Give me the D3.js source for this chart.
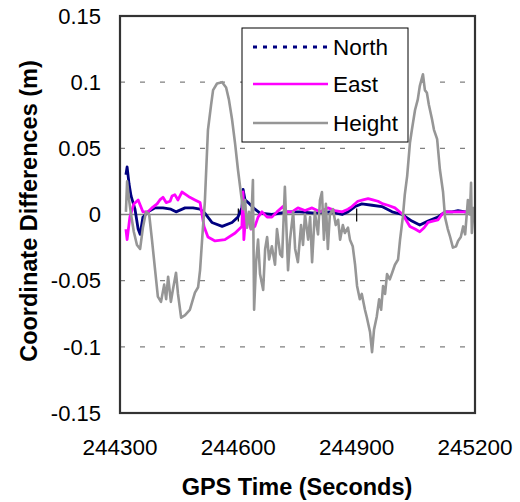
<!DOCTYPE html>
<html>
<head>
<meta charset="utf-8">
<script src="https://cdn.jsdelivr.net/npm/d3@7"></script>
<style>
  body { margin: 0; background: #fff; }
  svg text { font-family: "Liberation Sans", Arial, sans-serif; fill: #000; }
</style>
</head>
<body>
<svg id="chart" width="520" height="502"></svg>
<script>
// GPS time (s) and coordinate differences (m)
const northTime = [244315, 244318, 244323, 244328, 244338, 244346, 244351, 244358, 244371, 244389,
  244409, 244429, 244442, 244465, 244485, 244503, 244515, 244533, 244559, 244584, 244599, 244609,
  244612, 244617, 244625, 244642, 244655, 244685, 244726, 244756, 244794, 244832, 244863, 244878,
  244896, 244913, 244939, 244964, 244990, 245015, 245040, 245060, 245081, 245106, 245124, 245142,
  245157, 245175, 245197];
const northValues = [0.030, 0.036, 0.023, 0.014, 0.004, -0.011, -0.015, -0.002, 0.002, 0.005,
  0.005, 0.004, 0.002, 0.005, 0.005, 0.004, 0.001, -0.006, -0.009, -0.006, -0.002, 0.005,
  0.019, 0.011, 0.009, 0.004, 0.001, 0.000, 0.002, 0.002, 0.001, 0.002, 0.000, 0.002,
  0.006, 0.008, 0.007, 0.006, 0.002, 0.000, -0.005, -0.008, -0.005, -0.002, 0.002, 0.002,
  0.003, 0.002, 0.002];

const eastTime = [244315, 244318, 244325, 244335, 244346, 244358, 244371, 244381, 244394, 244401,
  244409, 244417, 244427, 244432, 244439, 244447, 244457, 244467, 244477, 244490, 244503, 244513,
  244523, 244541, 244566, 244592, 244609, 244612, 244614, 244619, 244624, 244632, 244642, 244650,
  244660, 244673, 244685, 244698, 244713, 244723, 244736, 244751, 244769, 244787, 244807, 244827,
  244845, 244863, 244878, 244888, 244903, 244916, 244929, 244941, 244954, 244967, 244979, 244997,
  245017, 245035, 245048, 245060, 245071, 245081, 245093, 245106, 245116, 245124, 245149, 245175,
  245197];
const eastValues = [-0.011, -0.019, -0.002, 0.008, 0.011, 0.002, 0.002, 0.005, 0.008, 0.011,
  0.013, 0.009, 0.010, 0.014, 0.015, 0.011, 0.017, 0.015, 0.013, 0.011, 0.009, -0.009,
  -0.017, -0.020, -0.019, -0.014, -0.009, 0.017, -0.019, 0.000, -0.002, -0.011, -0.009, -0.002,
  0.002, -0.002, -0.002, 0.002, 0.006, 0.002, 0.002, 0.005, 0.003, 0.005, 0.002, 0.005,
  0.003, 0.002, 0.004, 0.006, 0.010, 0.011, 0.012, 0.011, 0.010, 0.008, 0.007, 0.005,
  0.000, -0.009, -0.011, -0.013, -0.010, -0.006, -0.005, -0.004, 0.000, 0.002, 0.002, 0.002,
  0.002];

const heightTime = [244315, 244318, 244323, 244328, 244335, 244343, 244351, 244358, 244366, 244374,
  244381, 244389, 244396, 244404, 244412, 244417, 244422, 244429, 244434, 244442, 244447, 244455,
  244465, 244477, 244490, 244498, 244503, 244510, 244515, 244523, 244531, 244536, 244546, 244559,
  244569, 244576, 244584, 244592, 244599, 244607, 244612, 244617, 244622, 244627, 244632, 244637,
  244640, 244645, 244650, 244655, 244663, 244668, 244673, 244678, 244685, 244693, 244698, 244706,
  244711, 244718, 244726, 244731, 244739, 244744, 244751, 244759, 244764, 244769, 244777, 244782,
  244787, 244794, 244802, 244807, 244812, 244817, 244822, 244827, 244832, 244840, 244847, 244853,
  244858, 244865, 244870, 244878, 244883, 244890, 244896, 244901, 244908, 244913, 244921, 244926,
  244934, 244939, 244944, 244951, 244957, 244962, 244967, 244972, 244977, 244984, 244990, 244997,
  245005, 245010, 245017, 245022, 245028, 245035, 245040, 245048, 245055, 245060, 245068, 245073,
  245078, 245083, 245091, 245096, 245104, 245111, 245119, 245124, 245131, 245137, 245144, 245152,
  245157, 245164, 245170, 245175, 245182, 245187, 245190, 245192, 245197];
const heightValues = [0.002, 0.025, 0.011, 0.000, -0.013, -0.023, -0.026, -0.010, 0.002, 0.000,
  -0.019, -0.042, -0.062, -0.066, -0.053, -0.064, -0.047, -0.066, -0.057, -0.044, -0.060, -0.078,
  -0.076, -0.072, -0.059, -0.055, -0.042, -0.011, 0.009, 0.064, 0.083, 0.094, 0.099, 0.100,
  0.096, 0.087, 0.072, 0.053, 0.034, 0.015, 0.004, 0.011, -0.010, 0.002, -0.011, 0.026,
  -0.072, -0.036, -0.019, -0.045, -0.057, -0.026, -0.017, -0.034, -0.024, -0.038, -0.011, -0.030,
  -0.032, 0.021, -0.042, -0.019, 0.002, -0.026, -0.036, -0.008, -0.023, 0.000, -0.019, -0.002,
  -0.036, 0.002, -0.015, 0.011, 0.017, -0.019, 0.008, -0.026, 0.000, 0.004, -0.008, -0.004,
  -0.019, -0.008, -0.014, -0.010, -0.019, -0.024, -0.038, -0.054, -0.064, -0.060, -0.072, -0.078,
  -0.089, -0.104, -0.087, -0.077, -0.064, -0.072, -0.054, -0.060, -0.045, -0.049, -0.044, -0.038,
  -0.034, -0.019, -0.002, 0.015, 0.029, 0.054, 0.064, 0.079, 0.087, 0.097, 0.106, 0.094,
  0.092, 0.083, 0.072, 0.064, 0.057, 0.034, 0.017, -0.002, -0.011, -0.017, -0.025, -0.024,
  -0.020, -0.017, -0.009, -0.015, 0.011, 0.000, 0.024, -0.014, 0.006];

const xTicks = [244300, 244600, 244900, 245200];
const yTicks = [-0.15, -0.1, -0.05, 0, 0.05, 0.1, 0.15];
const seriesNames = ["North", "East", "Height"];
const seriesColors = ["#000080", "#ff00ff", "#969696"];

const margin = {top: 16, right: 45, bottom: 89, left: 120},
    width = 520 - margin.left - margin.right,
    height = 502 - margin.top - margin.bottom;

const svg = d3.select("#chart");
const g = svg.append("g")
    .attr("transform", "translate(" + margin.left + "," + margin.top + ")");

const x = d3.scaleLinear().domain([244300, 245200]).range([0, width]);
const y = d3.scaleLinear().domain([-0.15, 0.15]).range([height, 0]);

// dashed gridlines
g.selectAll(".grid")
    .data(yTicks.filter(d => d !== 0 && d !== 0.15 && d !== -0.15))
    .enter().append("line")
    .attr("x1", 0).attr("x2", width)
    .attr("y1", d => y(d)).attr("y2", d => y(d))
    .attr("stroke", "#808080")
    .attr("stroke-width", 1.2)
    .attr("stroke-dasharray", "5,15");

// x axis crosses at zero
g.append("line")
    .attr("x1", 0).attr("x2", width)
    .attr("y1", y(0)).attr("y2", y(0))
    .attr("stroke", "#808080")
    .attr("stroke-width", 1.5);
g.selectAll(".xtick")
    .data(xTicks)
    .enter().append("line")
    .attr("x1", d => x(d)).attr("x2", d => x(d))
    .attr("y1", y(0) - 6).attr("y2", y(0) + 7)
    .attr("stroke", "#000")
    .attr("stroke-width", 1.2);

// series
const series = [
    {time: northTime, values: northValues, width: 2.8},
    {time: eastTime, values: eastValues, width: 2.8},
    {time: heightTime, values: heightValues, width: 2.6}
];
const line = d3.line()
    .x(d => x(d[0]))
    .y(d => y(d[1]));

series.forEach(function (s, i) {
    g.append("path")
        .datum(d3.zip(s.time, s.values))
        .attr("fill", "none")
        .attr("stroke", seriesColors[i])
        .attr("stroke-width", s.width)
        .attr("stroke-linejoin", "round")
        .attr("d", line);
});

// plot frame
g.append("rect")
    .attr("x", 0).attr("y", 0)
    .attr("width", width).attr("height", height)
    .attr("fill", "none")
    .attr("stroke", "#333")
    .attr("stroke-width", 2.2);

// tick labels
g.selectAll(".ylabel")
    .data(yTicks)
    .enter().append("text")
    .attr("x", -19)
    .attr("y", d => y(d))
    .attr("dy", "0.35em")
    .attr("text-anchor", "end")
    .style("font-size", "22px")
    .text(d => String(d));

g.selectAll(".xlabel")
    .data(xTicks)
    .enter().append("text")
    .attr("x", d => x(d))
    .attr("y", height + 42)
    .attr("text-anchor", "middle")
    .style("font-size", "22.5px")
    .text(d => d);

// axis titles
svg.append("text")
    .attr("x", 297)
    .attr("y", 495)
    .attr("text-anchor", "middle")
    .style("font-size", "23.5px")
    .style("font-weight", "bold")
    .text("GPS Time (Seconds)");

svg.append("text")
    .attr("transform", "translate(37,211) rotate(-90)")
    .attr("text-anchor", "middle")
    .style("font-size", "23.5px")
    .style("font-weight", "bold")
    .text("Coordinate Differences (m)");

// legend
const legend = svg.append("g").attr("transform", "translate(242,28)");
legend.append("rect")
    .attr("width", 166).attr("height", 114)
    .attr("fill", "#fff")
    .attr("stroke", "#000")
    .attr("stroke-width", 1);
const rows = legend.selectAll(".row")
    .data(seriesNames)
    .enter().append("g")
    .attr("transform", (d, i) => "translate(0," + [19, 56, 95][i] + ")");
rows.append("line")
    .attr("x1", 11).attr("x2", 86)
    .attr("stroke", (d, i) => seriesColors[i])
    .attr("stroke-width", (d, i) => i === 0 ? 3 : 2.6)
    .attr("stroke-dasharray", (d, i) => i === 0 ? "4,6" : null);
rows.append("text")
    .attr("x", 91)
    .attr("dy", "0.35em")
    .style("font-size", "22.5px")
    .text(d => d);
</script>
</body>
</html>
